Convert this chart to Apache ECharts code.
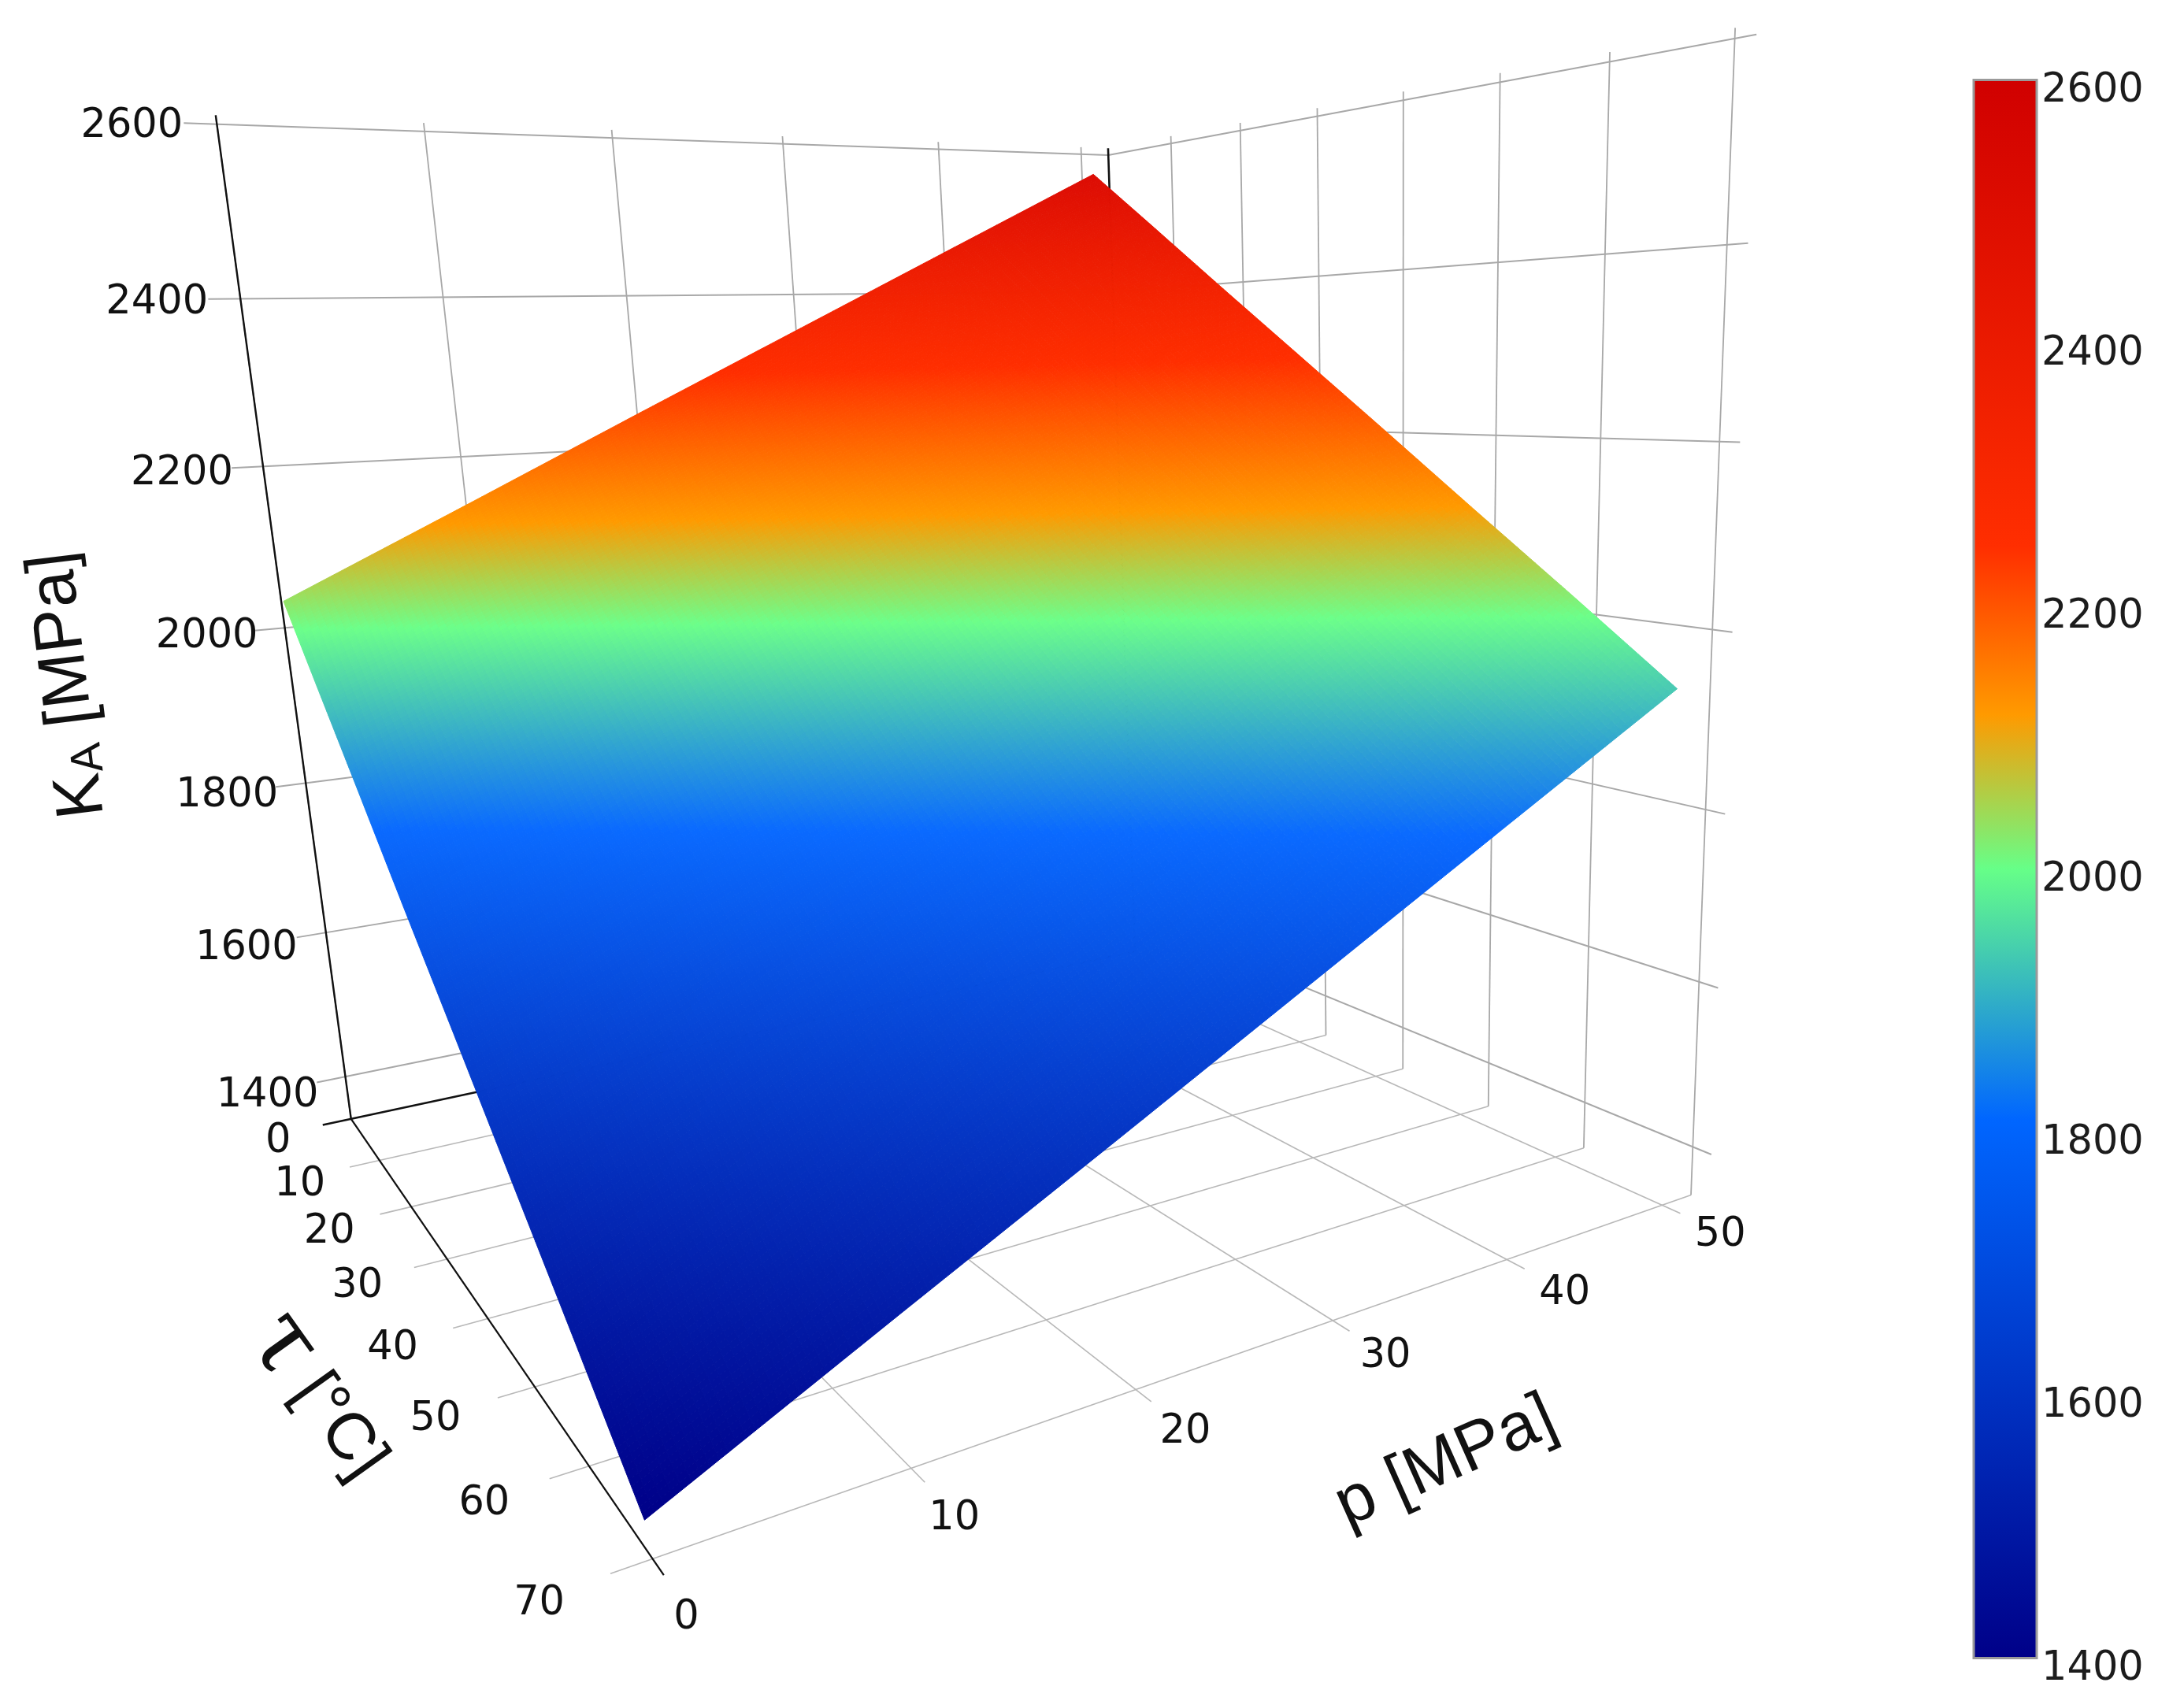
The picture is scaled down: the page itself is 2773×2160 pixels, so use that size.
<!DOCTYPE html>
<html>
<head>
<meta charset="utf-8">
<script src="https://cdn.jsdelivr.net/npm/echarts@6/dist/echarts.min.js"></script>
<style>html,body{margin:0;padding:0;background:#fff}#c{width:2773px;height:2160px}</style>
</head>
<body>
<div id="c"></div>
<script>
// ---------- data ----------
const pTicks = [0, 10, 20, 30, 40, 50];
const tauTicks = [0, 10, 20, 30, 40, 50, 60, 70];
const kTicks = [1400, 1600, 1800, 2000, 2200, 2400, 2600];
// surface samples: K_A [MPa] per tau (rows) and p (columns)
const surfaceP = [0, 10, 20, 30, 40, 50.4];
const surfaceTau = [1, 10, 20, 30, 40, 50, 60, 69.3];
const kRow1  = [2035, 2141, 2248, 2354, 2460, 2570];
const kRow10 = [1947, 2054, 2162, 2269, 2376, 2487];
const kRow20 = [1850, 1958, 2066, 2174, 2282, 2394];
const kRow30 = [1752, 1862, 1971, 2080, 2189, 2302];
const kRow40 = [1656, 1767, 1876, 1987, 2096, 2210];
const kRow50 = [1559, 1670, 1781, 1892, 2003, 2117];
const kRow60 = [1462, 1574, 1686, 1798, 1910, 2025];
const kRow70 = [1370, 1483, 1595, 1708, 1821, 1938];
const kMatrix = [kRow1, kRow10, kRow20, kRow30, kRow40, kRow50, kRow60, kRow70];
const barRange = [1400, 2600];

// ---------- colour scales ----------
const barStops = [[1400,'#000088'],[1810,'#0066ff'],[2000,'#66ff88'],[2117,'#ff9a00'],[2245,'#ff2e00'],[2600,'#d00000']];
const surfStops = [[1370,'#000088'],[1815,'#0a6aff'],[2005,'#6cff8a'],[2117,'#ff9a00'],[2295,'#ff2e00'],[2570,'#dc0c04']];

function colorOf(stops, v) {
  if (v <= stops[0][0]) return stops[0][1];
  for (let i = 1; i < stops.length; i++) {
    if (v <= stops[i][0]) {
      const t = (v - stops[i-1][0]) / (stops[i][0] - stops[i-1][0]);
      const a = echarts.color.parse(stops[i-1][1]), b = echarts.color.parse(stops[i][1]);
      return 'rgb(' + [0,1,2].map(j => Math.round(a[j] + (b[j]-a[j])*t)).join(',') + ')';
    }
  }
  return stops[stops.length-1][1];
}

// ---------- camera: calibrated on the visible corners of the 3D box ----------
const pMax = 52, kFloor = 1340, kTop = 2610;
const cameraRefs = [
  [0,0,2600,276,159],[0,0,2400,305.4,380],[0,0,2200,333,592],[0,0,2000,357.4,796],[0,0,1400,437,1363],[0,0,kFloor,444,1420.5],
  [0,10,kFloor,484,1471],[0,20,kFloor,522,1532],[0,30,kFloor,571,1598],[0,40,kFloor,623,1675],[0,50,kFloor,680,1763],[0,60,kFloor,746,1863],[0,70,kFloor,825,1982],
  [20,70,kFloor,1445.5,1764.5],[30,70,kFloor,1698,1677],[40,70,kFloor,1915.5,1597],[50,70,kFloor,2119,1526],
  [10,0,2600,539,169],[20,0,2600,776,179],[50,0,2600,1368,200],[pMax,0,2600,1412,200],
  [pMax,10,2600,1491,176],[pMax,20,2600,1578,162],[pMax,30,2600,1675,145],[pMax,40,2600,1783,125],[pMax,50,2600,1904,105],[pMax,60,2600,2043,78],[pMax,70,2600,2200,48],
  [pMax,70,2400,2190,311],[pMax,70,2200,2180,562],[pMax,70,2000,2172,800],[pMax,70,kFloor,2142,1519],
  [pMax,60,kFloor,2008,1459],[pMax,50,kFloor,1887,1406],[pMax,40,kFloor,1779,1360],[pMax,30,kFloor,1682,1317]
];
function norm3(p,t,k){return [p/50,t/70,(k-1400)/1200,1];}
function solveCamera(refs){
  const n=11, A=[...Array(n)].map(()=>Array(n+1).fill(0));
  const add=(row,rhs)=>{for(let i=0;i<n;i++){for(let j=0;j<n;j++)A[i][j]+=row[i]*row[j];A[i][n]+=row[i]*rhs;}};
  refs.forEach(r=>{
    const X=norm3(r[0],r[1],r[2]),u=r[3]/1000,v=r[4]/1000;
    add([X[0],X[1],X[2],1,0,0,0,0,-u*X[0],-u*X[1],-u*X[2]],u);
    add([0,0,0,0,X[0],X[1],X[2],1,-v*X[0],-v*X[1],-v*X[2]],v);
  });
  for(let c=0;c<n;c++){
    let m=c;for(let r=c+1;r<n;r++)if(Math.abs(A[r][c])>Math.abs(A[m][c]))m=r;
    [A[c],A[m]]=[A[m],A[c]];
    for(let r=0;r<n;r++){if(r===c)continue;const f=A[r][c]/A[c][c];for(let j=c;j<=n;j++)A[r][j]-=f*A[c][j];}
  }
  return A.map((row,i)=>row[n]/row[i]);
}
const H=solveCamera(cameraRefs);
function proj(p,t,k){
  const X=norm3(p,t,k);
  const w=H[8]*X[0]+H[9]*X[1]+H[10]*X[2]+1;
  return [1000*(H[0]*X[0]+H[1]*X[1]+H[2]*X[2]+H[3])/w, 1000*(H[4]*X[0]+H[5]*X[1]+H[6]*X[2]+H[7])/w];
}

// ---------- line list of the box ----------
const GRAY='#a8a8a8', FLOOR='#b8b8b8', BLACK='#111111';
const pOut=-1.5, tauOut=71.6, tauTickOut=71.6;
const lines=[];
kTicks.forEach(k=>{
  lines.push([pOut,0,k,pMax,0,k,GRAY,2]);
  lines.push([pMax,0,k,pMax,tauTickOut,k,GRAY,2]);
});
pTicks.forEach(p=>{
  lines.push([p,0,kFloor,p,tauOut,kFloor,FLOOR,1.6]);
  lines.push([p,0,kFloor,p,0,kTop,GRAY,1.8]);
});
tauTicks.forEach(t=>{
  lines.push([pOut,t,kFloor,pMax,t,kFloor,t===0?BLACK:FLOOR,t===0?2.4:1.6]);
  if(t>0)lines.push([pMax,t,kFloor,pMax,t,kTop,GRAY,1.8]);
});
lines.push([0,0,kFloor,0,0,kTop,BLACK,2.4]);
lines.push([0,0,kFloor,0,tauOut,kFloor,BLACK,2.2]);
lines.push([pMax,0,kFloor,pMax,0,kTop,BLACK,2.6]);

// ---------- surface cells ----------
const cells=[];
for(let i=0;i<surfaceTau.length-1;i++)for(let j=0;j<surfaceP.length-1;j++)cells.push([i,j]);
const SUB=28;

// ---------- tick labels (offset from the axis point, in pixels) ----------
const kLabelOffset={1400:[-99,25],1600:[-101,21],1800:[-100,16],2000:[-99,12],2200:[-103,9],2400:[-106,5],2600:[-108,3]};
const tauLabelOffset={0:[-92.5,28.5],10:[-101,31.6],20:[-104,32],30:[-114,35],40:[-121,38],50:[-126,42],60:[-133,48],70:[-144,57]};
const pLabelOffset={0:[43,75],10:[55,64],20:[63,54],30:[67,46],40:[73.5,43],50:[74,38]};
const tickTexts=[];
kTicks.forEach(k=>{const a=proj(0,0,k),o=kLabelOffset[k];tickTexts.push([a[0]+o[0],a[1]+o[1],String(k)]);});
tauTicks.forEach(t=>{const a=proj(0,t,kFloor),o=tauLabelOffset[t];tickTexts.push([a[0]+o[0],a[1]+o[1],String(t)]);});
pTicks.forEach(p=>{const a=proj(p,70,kFloor),o=pLabelOffset[p];tickTexts.push([a[0]+o[0],a[1]+o[1],String(p)]);});

const TICKFONT='"DejaVu Sans"';
const TITLEFONT='"Liberation Sans"';
const BAR_SHIFT=14.5; // the bar sits a little above its scale in the reference

const chart=echarts.init(document.getElementById('c'),null,{renderer:'canvas'});
chart.setOption({
  animation:false,
  backgroundColor:'#ffffff',
  grid:{left:2506,width:80,top:116,height:2004,containLabel:false},
  xAxis:{type:'value',show:false,min:0,max:1},
  yAxis:{type:'value',position:'right',min:barRange[0],max:barRange[1],interval:200,
    axisLine:{show:false},axisTick:{show:false},splitLine:{show:false},
    axisLabel:{show:true,margin:6,color:'#1c1c1c',fontFamily:TICKFONT,fontSize:51,align:'left',verticalAlign:'middle',formatter:v=>String(v)}},
  graphic:[
    {type:'text',x:87,y:870,rotation:97*Math.PI/180,z:20,style:{
      text:'{a|K}{b|A}{a| [MPa]}',align:'center',verticalAlign:'middle',fill:'#111',
      rich:{a:{fontFamily:TITLEFONT,fontSize:85,fill:'#111',color:'#111'},b:{fontFamily:TITLEFONT,fontSize:56,fill:'#111',color:'#111',verticalAlign:'bottom'}}}},
    {type:'text',x:1836,y:1857,rotation:24*Math.PI/180,z:20,style:{
      text:'p [MPa]',align:'center',verticalAlign:'middle',fill:'#111',font:'86px '+TITLEFONT}},
    {type:'text',x:404,y:1775,rotation:-54.5*Math.PI/180,z:20,style:{
      text:'{t|τ}{a| [°C]}',align:'center',verticalAlign:'middle',fill:'#111',
      rich:{t:{fontFamily:'"DejaVu Serif"',fontSize:122,fill:'#111',color:'#111'},a:{fontFamily:TITLEFONT,fontSize:84,fill:'#111',color:'#111'}}}}
  ],
  series:[
    {name:'box',type:'custom',coordinateSystem:'none',z:1,silent:true,data:lines,
     renderItem:(params,api)=>{
       const l=lines[params.dataIndex],a=proj(l[0],l[1],l[2]),b=proj(l[3],l[4],l[5]);
       return {type:'line',shape:{x1:a[0],y1:a[1],x2:b[0],y2:b[1]},style:{stroke:l[6],lineWidth:l[7],fill:null}};
     }},
    {name:'surface',type:'custom',coordinateSystem:'none',z:2,silent:true,data:cells,
     renderItem:(params,api)=>{
       const [i,j]=cells[params.dataIndex];
       const t0=surfaceTau[i],t1=surfaceTau[i+1],p0=surfaceP[j],p1=surfaceP[j+1];
       const k00=kMatrix[i][j],k01=kMatrix[i][j+1],k10=kMatrix[i+1][j],k11=kMatrix[i+1][j+1];
       const kAt=(u,v)=>k00*(1-u)*(1-v)+k01*u*(1-v)+k10*(1-u)*v+k11*u*v;
       const pt=(u,v)=>proj(p0+(p1-p0)*u,t0+(t1-t0)*v,kAt(u,v));
       const children=[];
       for(let a=0;a<SUB;a++)for(let b=0;b<SUB;b++){
         const u0=a/SUB,u1=(a+1)/SUB,v0=b/SUB,v1=(b+1)/SUB;
         const col=colorOf(surfStops,kAt((u0+u1)/2,(v0+v1)/2));
         children.push({type:'polygon',shape:{points:[pt(u0,v0),pt(u1,v0),pt(u1,v1),pt(u0,v1)]},style:{fill:col,stroke:col,lineWidth:1}});
       }
       return {type:'group',children};
     }},
    {name:'tick labels',type:'custom',coordinateSystem:'none',z:5,silent:true,data:tickTexts,
     renderItem:(params,api)=>{
       const t=tickTexts[params.dataIndex];
       return {type:'text',x:t[0],y:t[1],style:{text:t[2],fill:'#111',font:'51px '+TICKFONT,align:'center',verticalAlign:'middle'}};
     }},
    {name:'colorbar',type:'custom',coordinateSystem:'cartesian2d',z:3,silent:true,clip:false,data:[[0,barRange[0],1,barRange[1]]],
     encode:{x:[0,2],y:[1,3]},
     renderItem:(params,api)=>{
       const a=api.coord([api.value(0),api.value(1)]),b=api.coord([api.value(2),api.value(3)]);
       const lo=barRange[0],span=barRange[1]-barRange[0];
       const stops=barStops.map(s=>({offset:1-(s[0]-lo)/span,color:s[1]})).reverse();
       return {type:'rect',shape:{x:a[0],y:b[1]-BAR_SHIFT,width:b[0]-a[0],height:a[1]-b[1]},
         style:{fill:new echarts.graphic.LinearGradient(0,0,0,1,stops),stroke:'#9a9a9a',lineWidth:3}};
     }}
  ]
});
</script>
</body>
</html>
